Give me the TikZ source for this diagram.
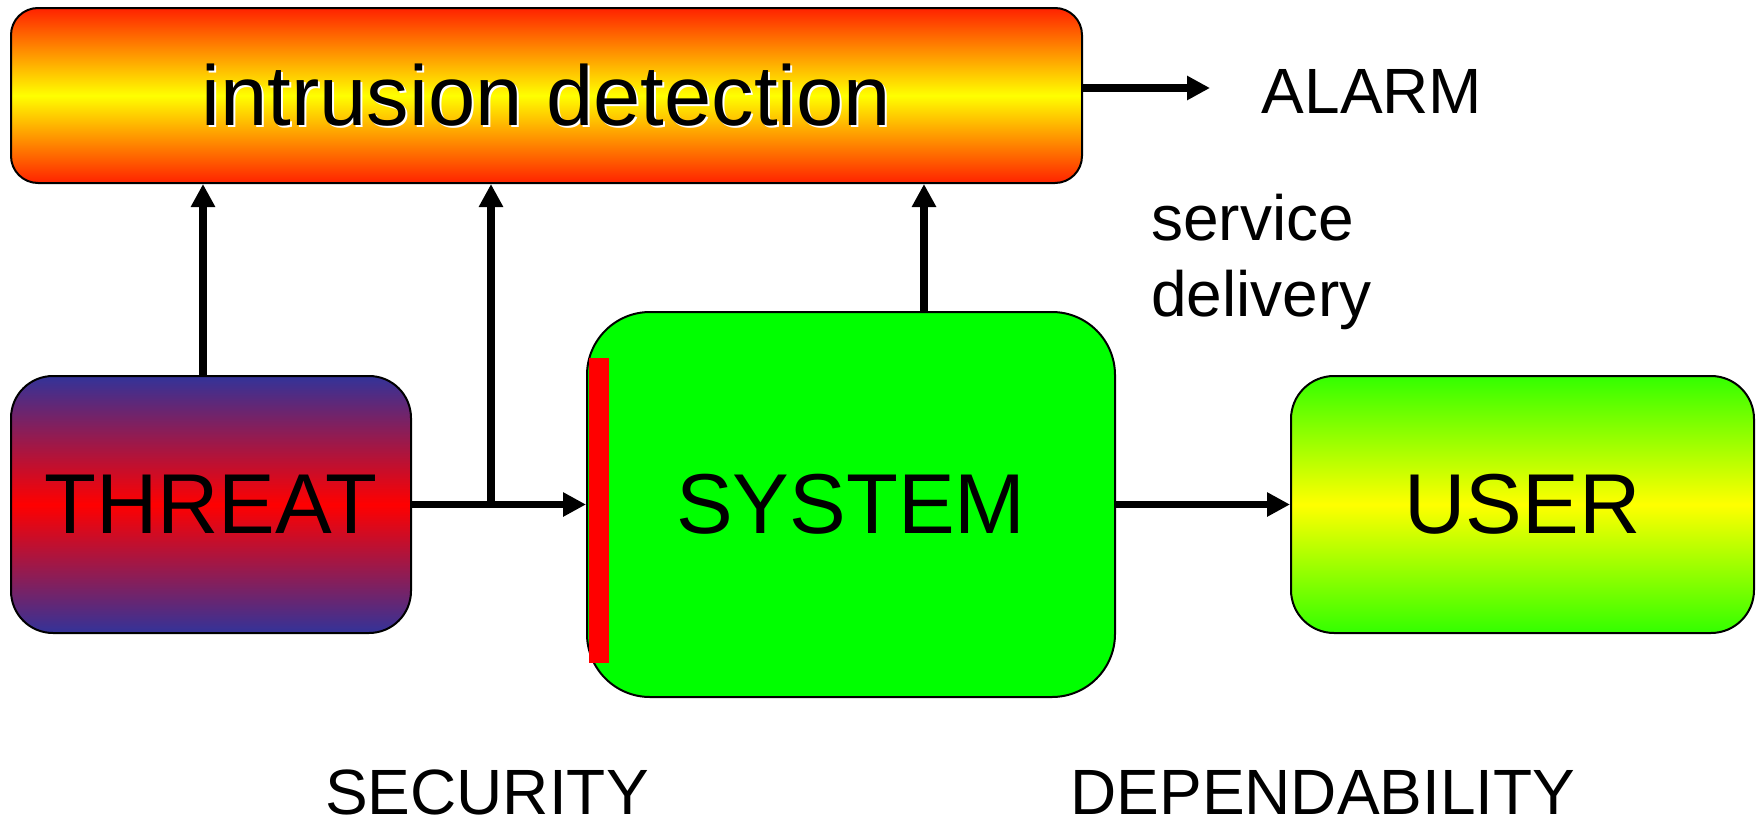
\documentclass[tikz,border=0pt]{standalone}
\usepackage{fontspec}
\setmainfont{Liberation Sans}
\usetikzlibrary{arrows.meta}
\definecolor{idred}{HTML}{FF2200}
\definecolor{idyellow}{HTML}{FFFF00}
\definecolor{thblue}{HTML}{333399}
\definecolor{thred}{HTML}{FF0000}
\definecolor{sysgreen}{HTML}{00FF00}
\definecolor{usgreen}{HTML}{33FF00}
\begin{document}
\begin{tikzpicture}[x=0.5pt,y=-0.5pt,
  box/.style={draw=black, line width=1pt, inner sep=0pt},
  big/.style={font=\fontsize{42.5pt}{50pt}\selectfont},
  small/.style={font=\fontsize{32pt}{38pt}\selectfont, inner sep=0pt},
  arr/.style={line width=3.7pt, -{Triangle[length=11.5pt,width=11.5pt]}}
]
\useasboundingbox (0,0) rectangle (1762,819);

% intrusion detection box
\node[box, rounded corners=13.5pt, minimum width=535.5pt, minimum height=87.5pt,
      top color=idred, bottom color=idred, middle color=idyellow] (id) at (546.5,95.5) {};
\node[big, text=white] (idshadow) at ([shift={(2,2)}]id.center) {intrusion detection};
\node[big] (idtext) at (id.center) {intrusion detection};

% THREAT
\node[box, big, rounded corners=21pt, minimum width=200pt, minimum height=128.5pt,
      top color=thblue, bottom color=thblue, middle color=thred] (threat) at (211,504.5) {THREAT};

% SYSTEM
\node[box, big, rounded corners=31.5pt, minimum width=264pt, minimum height=192.5pt,
      fill=sysgreen] (system) at (851,504.5) {SYSTEM};

% USER
\node[box, big, rounded corners=21.5pt, minimum width=231.5pt, minimum height=128.5pt,
      top color=usgreen, bottom color=usgreen, middle color=idyellow] (user) at (1522.5,504.5) {USER};

% connector helpers
\coordinate (t1) at (203,0);
\coordinate (jx) at (491,0);
\coordinate (s1) at (924,0);
\coordinate (alarmend) at (1210,88);

% connectors
\draw[arr] (t1 |- threat.north) -- (t1 |- id.south);
\draw[arr] (threat.east) -- (system.west);
\draw[arr] (jx |- threat.east) -- (jx |- id.south);
\draw[arr] (s1 |- system.north) -- (s1 |- id.south);
\draw[arr] (system.east) -- (user.west);
\draw[arr] (id.east |- alarmend) -- (alarmend);

% red bar on system
\fill[red] (589,358) rectangle (609,663);

% labels
\node[small, anchor=base] (alarm) at (1372,113) {ALARM};
\node[small, anchor=base west] (sd1) at (1151,240) {service};
\node[small, anchor=base west] (sd2) at (1151,316) {delivery};
\node[small, anchor=base] (sec) at (487,814) {SECURITY};
\node[small, anchor=base] (dep) at (1323,814) {DEPENDABILITY};
\end{tikzpicture}
\end{document}
